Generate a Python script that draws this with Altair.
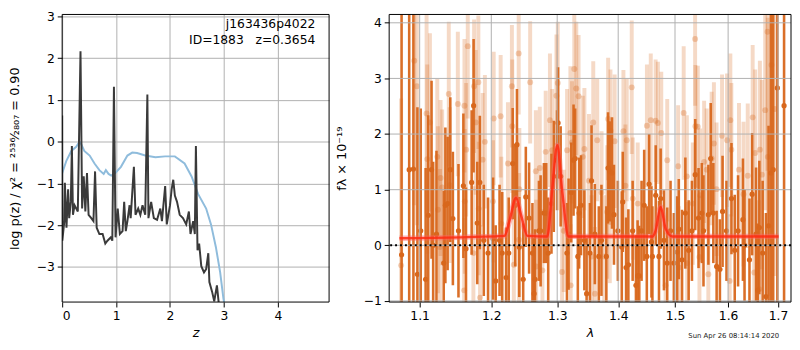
import altair as alt
import pandas as pd

# ---------------- left panel: p(z) ----------------
Z_CHI = [0.00, 0.08, 0.17, 0.26, 0.32, 0.35, 0.41, 0.51, 0.60, 0.69, 0.77, 0.81, 0.86, 0.91,
         0.99, 1.09, 1.21, 1.30, 1.39, 1.54, 1.73, 1.91, 2.09, 2.27, 2.40, 2.52, 2.67, 2.76,
         2.85, 2.93, 2.99, 3.01]
CHI_VAL = [-0.75, -0.45, -0.22, -0.12, 0.00, -0.05, -0.22, -0.33, -0.52, -0.68, -0.77, -0.68,
           -0.77, -0.81, -0.74, -0.60, -0.33, -0.26, -0.27, -0.33, -0.37, -0.35, -0.35, -0.52,
           -0.83, -1.25, -1.60, -1.98, -2.52, -3.13, -3.75, -3.90]

Z_PZ = [0.000, 0.003, 0.04, 0.05, 0.08, 0.11, 0.13, 0.16, 0.18, 0.20, 0.23, 0.29, 0.34, 0.37,
        0.40, 0.43, 0.46, 0.49, 0.54, 0.58, 0.61, 0.64, 0.69, 0.75, 0.80, 0.84, 0.90, 0.93,
        0.96, 0.99, 1.03, 1.07, 1.12, 1.15, 1.18, 1.21, 1.25, 1.27, 1.33, 1.36, 1.41, 1.45,
        1.49, 1.54, 1.58, 1.60, 1.65, 1.70, 1.76, 1.82, 1.85, 1.91, 1.94, 2.00, 2.03, 2.06,
        2.09, 2.13, 2.18, 2.24, 2.30, 2.35, 2.38, 2.43, 2.46, 2.48, 2.51, 2.54, 2.58, 2.63,
        2.67, 2.71, 2.73, 2.78, 2.82, 2.87, 2.90, 2.91]
LOG_PZ = [0.63, -2.37, -1.90, -0.98, -2.06, -1.14, -1.83, -1.44, -0.10, -1.75, -1.52, -1.67,
          2.17, -1.60, -0.83, -1.67, -0.75, -1.75, -1.83, -1.90, -0.71, -2.06, -2.21, -2.21,
          -2.44, -2.37, -2.29, -2.37, 1.32, -2.29, -1.60, -2.21, -2.14, -1.44, -2.14, -1.90,
          -1.52, -1.83, -0.60, -1.75, -1.60, -1.75, -1.52, -1.75, 1.13, -1.83, -1.44, -1.83,
          -1.87, -1.60, -1.90, -1.06, -1.98, -1.52, -1.14, -0.91, -1.29, -1.44, -1.75, -1.83,
          -1.98, -1.67, -2.21, -1.90, -2.21, -0.10, -2.60, -2.44, -2.98, -3.13, -3.05, -2.67,
          -3.36, -3.59, -3.82, -3.44, -3.82, -3.98]

Z_TICKS = [0, 1, 2, 3, 4]
LNP_TICKS = [-3, -2, -1, 0, 1, 2, 3]
LABEL_LINES = ["j163436p4022", "ID=1883\u00a0\u00a0\u00a0z=0.3654"]

# ---------------- right panel: spectrum ----------------
DARK_WAVE = [1.0761, 1.0861, 1.0917, 1.0970, 1.1014, 1.1080, 1.1115, 1.1160, 1.1182, 1.1227,
             1.1326, 1.1349, 1.1380, 1.1417, 1.1453, 1.1531, 1.1600, 1.1637, 1.1717, 1.1745,
             1.1797, 1.1834, 1.1891, 1.1953, 1.2025, 1.2064, 1.2121, 1.2160, 1.2218, 1.2257,
             1.2316, 1.2355, 1.2380, 1.2415, 1.2474, 1.2514, 1.2564, 1.2615, 1.2640, 1.2655,
             1.2715, 1.2741, 1.2792, 1.2828, 1.2859, 1.2910, 1.2946, 1.2998, 1.3014, 1.3055,
             1.3155, 1.3181, 1.3224, 1.3261, 1.3287, 1.3330, 1.3351, 1.3382, 1.3436, 1.3473,
             1.3527, 1.3554, 1.3608, 1.3674, 1.3718, 1.3800, 1.3828, 1.3856, 1.3895, 1.3928,
             1.3994, 1.4061, 1.4078, 1.4135, 1.4174, 1.4248, 1.4305, 1.4334, 1.4363, 1.4403,
             1.4449, 1.4495, 1.4536, 1.4577, 1.4594, 1.4653, 1.4711, 1.4741, 1.4800, 1.4859,
             1.4919, 1.4979, 1.5039, 1.5069, 1.5129, 1.5190, 1.5251, 1.5312, 1.5373, 1.5435,
             1.5497, 1.5528, 1.5621, 1.5665, 1.5715, 1.5778, 1.5841, 1.5892, 1.5968, 1.6065,
             1.6129, 1.6194, 1.6290, 1.6322, 1.6420, 1.6473, 1.6552, 1.6585, 1.6618, 1.6685,
             1.6752, 1.6805, 1.6853, 1.6900, 1.6986, 1.7125]
DARK_FLUX = [-0.17, 1.36, 1.37, -0.52, 0.26, -0.61, 0.54, 1.36, 0.00, 0.20,
             -0.32, 0.72, 0.75, 1.36, 0.48, 0.26, 1.07, -0.06, 1.13, 2.51,
             0.40, 1.13, 0.09, -0.14, 0.12, -0.64, 0.09, -0.14, -0.58, -0.14,
             1.47, 0.72, 1.81, -0.03, -0.61, 0.87, 0.49, -0.14, -0.87, -0.61,
             0.26, 0.26, 0.58, 0.58, -0.14, 0.75, 1.24, 1.53, 2.20, 1.24,
             -0.14, 0.20, 0.95, 1.53, 1.56, -0.20, 0.58, 0.72, 0.09, -0.87,
             -0.14, 1.16, 0.20, -0.20, 0.09, -0.20, 1.39, 1.33, 1.30, 0.55,
             0.26, -0.03, 0.78, -0.40, -0.35, 0.26, -0.72, -0.55, -0.55, 0.26,
             0.72, -0.20, 1.10, 0.06, -0.20, 0.90, -0.20, 0.84, 0.09, -0.32,
             0.26, -0.32, -0.12, 0.29, -0.26, 0.58, -0.09, 0.26, 1.27, 0.49,
             0.58, 0.26, 0.55, 1.56, 0.58, -0.38, -0.43, 0.61, 0.26, 0.84,
             -0.09, 0.26, 0.46, 0.00, -0.26, 0.92, 0.20, -0.81, 0.32, -0.14,
             -0.92, 0.35, 1.30, 1.36, 2.83, 2.51]
DARK_ERR = [5.0, 5.0, 5.0, 3.0, 2.2, 2.0, 1.8, 1.6, 1.5, 1.5,
            1.3, 1.4, 1.2, 1.3, 1.2, 1.2, 1.3, 1.1, 1.3, 1.2,
            1.1, 1.2, 1.0, 1.0, 1.1, 1.0, 1.0, 1.1, 0.9, 1.0,
            1.0, 1.1, 1.0, 0.9, 1.0, 0.9, 1.0, 0.9, 1.0, 0.9,
            0.9, 1.0, 0.9, 0.9, 1.0, 0.9, 1.0, 0.9, 1.0, 0.9,
            0.9, 1.0, 0.9, 1.0, 0.9, 0.9, 1.0, 0.9, 0.9, 1.0,
            0.9, 1.0, 0.9, 0.9, 1.0, 0.9, 1.0, 0.9, 1.0, 0.9,
            0.9, 1.0, 0.9, 0.9, 1.0, 0.9, 0.9, 1.0, 0.9, 0.9,
            1.0, 0.9, 0.9, 1.0, 0.9, 0.9, 1.0, 0.9, 0.9, 1.0,
            0.9, 0.9, 1.0, 0.9, 0.9, 1.0, 0.9, 0.9, 1.0, 0.9,
            0.9, 1.0, 0.9, 1.0, 0.9, 1.0, 0.9, 1.0, 0.9, 1.0,
            1.0, 1.0, 1.1, 1.0, 1.1, 1.1, 1.2, 1.2, 1.2, 1.3,
            1.5, 1.8, 3.0, 3.5, 4.0, 5.0]

LIGHT_WAVE = [1.0755, 1.0928, 1.0963, 1.1093, 1.1102, 1.1138, 1.1238, 1.1247, 1.1274, 1.1283,
              1.1305, 1.1396, 1.1409, 1.1522, 1.1611, 1.1615, 1.1620, 1.1639, 1.1662, 1.1742,
              1.1752, 1.1775, 1.1813, 1.1818, 1.1837, 1.1874, 1.1907, 1.2025, 1.2035, 1.2137,
              1.2147, 1.2245, 1.2304, 1.2310, 1.2333, 1.2406, 1.2410, 1.2416, 1.2580, 1.2667,
              1.2672, 1.2728, 1.2769, 1.2820, 1.2886, 1.2922, 1.2988, 1.3009, 1.3077, 1.3104,
              1.3157, 1.3210, 1.3215, 1.3236, 1.3273, 1.3305, 1.3342, 1.3411, 1.3437, 1.3512,
              1.3554, 1.3582, 1.3610, 1.3648, 1.3720, 1.3764, 1.3814, 1.3830, 1.3858, 1.3869,
              1.3940, 1.4089, 1.4123, 1.4146, 1.4232, 1.4250, 1.4336, 1.4497, 1.4565, 1.4651,
              1.4692, 1.4752, 1.4830, 1.4859, 1.5057, 1.5069, 1.5159, 1.5218, 1.5223, 1.5328,
              1.5371, 1.5376, 1.5421, 1.5452, 1.5465, 1.5540, 1.5589, 1.5620, 1.5683, 1.5726,
              1.5776, 1.5882, 1.5979, 1.6030, 1.6043, 1.6063, 1.6212, 1.6302, 1.6386, 1.6484,
              1.6516, 1.6535, 1.6615, 1.6629, 1.6669, 1.6737, 1.6784, 1.6790, 1.6865, 1.6930]
LIGHT_FLUX = [-0.36, 3.32, 2.86, 2.37, 1.55, 2.21, 1.59, 0.64, -0.03, 1.21,
              1.04, 2.72, 1.08, 2.54, -0.81, 2.51, 0.79, 1.72, 3.58, -0.14,
              2.86, 2.21, 2.93, 0.66, -0.94, 1.54, 1.86, 0.79, 2.28, 2.32,
              0.39, 1.47, 2.86, 2.14, -0.35, 3.45, 0.10, 1.01, 2.93, 1.33,
              -0.38, 1.39, -0.45, 1.68, 2.25, 1.71, 2.69, 2.92, -0.48, 0.26,
              1.71, 2.02, -0.72, 1.85, 3.17, 2.82, 2.68, 1.59, 1.73, 1.16,
              -0.20, 2.21, -0.87, 1.89, 0.95, -0.20, 0.60, 2.27, 0.42, 2.06,
              1.87, 2.05, 1.07, 1.89, 2.84, 0.84, 0.75, 2.15, 2.25, 2.24,
              2.20, 2.02, -0.72, 1.53, 1.42, -0.40, 2.38, 1.24, -0.32, 0.75,
              3.71, 2.14, 2.13, -0.21, 0.90, 1.50, 1.36, -0.52, 1.56, 1.83,
              1.01, 1.97, 1.89, -0.64, 2.25, 1.72, 1.36, 0.92, 1.25, 2.30,
              -0.49, 1.66, -0.79, 1.72, 1.27, 2.43, 3.84, 1.59, 3.24, 2.45]
LIGHT_ERR = [3.0, 2.6, 2.5, 1.8, 1.7, 1.6, 1.4, 1.5, 1.4, 1.4,
             1.4, 1.3, 1.4, 1.3, 1.3, 1.2, 1.3, 1.2, 1.3, 1.2,
             1.2, 1.3, 1.2, 1.2, 1.3, 1.2, 1.2, 1.1, 1.2, 1.1,
             1.2, 1.1, 1.1, 1.2, 1.1, 1.1, 1.2, 1.1, 1.1, 1.1,
             1.2, 1.1, 1.1, 1.1, 1.2, 1.1, 1.1, 1.1, 1.2, 1.1,
             1.1, 1.2, 1.1, 1.1, 1.1, 1.2, 1.1, 1.1, 1.1, 1.2,
             1.1, 1.1, 1.2, 1.1, 1.1, 1.1, 1.2, 1.1, 1.1, 1.1,
             1.2, 1.1, 1.1, 1.1, 1.2, 1.1, 1.1, 1.1, 1.2, 1.1,
             1.1, 1.1, 1.2, 1.1, 1.1, 1.1, 1.2, 1.1, 1.1, 1.1,
             1.2, 1.1, 1.1, 1.1, 1.2, 1.1, 1.1, 1.1, 1.2, 1.1,
             1.2, 1.1, 1.2, 1.2, 1.2, 1.2, 1.2, 1.3, 1.3, 1.3,
             1.4, 1.5, 1.6, 1.6, 1.7, 1.8, 2.5, 2.5, 3.0, 3.0]

MODEL_WAVE = [1.0733, 1.2192, 1.2266, 1.2367, 1.2440, 1.2539, 1.2845, 1.2922, 1.3003, 1.3077,
              1.3181, 1.4600, 1.4650, 1.4741, 1.4830, 1.4949, 1.7011]
MODEL_FLUX = [0.127, 0.170, 0.43, 0.85, 0.55, 0.17, 0.16, 1.01, 1.80, 1.00,
              0.16, 0.16, 0.26, 0.69, 0.30, 0.16, 0.16]

WAVE_TICKS = [1.1, 1.2, 1.3, 1.4, 1.5, 1.6, 1.7]
FLUX_TICKS = [-1, 0, 1, 2, 3, 4]
STAMP = "Sun Apr 26 08:14:14 2020"

ORANGE = "#d8671c"
GRID = "#b0b0b0"
FONT = "DejaVu Sans"
LW, RW, H = 271, 408, 292

# ---------------- tables ----------------
df_chi = pd.DataFrame({"z": Z_CHI, "v": CHI_VAL})
df_pz = pd.DataFrame({"z": Z_PZ, "v": LOG_PZ})
df_lab = pd.DataFrame({"t": LABEL_LINES, "yy": [10, 26]})

df_dark = pd.DataFrame({"w": DARK_WAVE, "f": DARK_FLUX, "e": DARK_ERR})
df_dark["lo"] = df_dark["f"] - df_dark["e"]
df_dark["hi"] = df_dark["f"] + df_dark["e"]
df_light = pd.DataFrame({"w": LIGHT_WAVE, "f": LIGHT_FLUX, "e": LIGHT_ERR})
df_light["lo"] = df_light["f"] - df_light["e"]
df_light["hi"] = df_light["f"] + df_light["e"]
df_model = pd.DataFrame({"w": MODEL_WAVE, "f": MODEL_FLUX})
df_wgrid = pd.DataFrame({"w": WAVE_TICKS})
df_fgrid = pd.DataFrame({"f": FLUX_TICKS})
one = pd.DataFrame({"a": [0]})

axis_common = dict(gridColor=GRID, gridWidth=1, domain=False,
                   tickColor="black", tickSize=5, tickWidth=1, labelPadding=3,
                   labelFont=FONT, labelFontSize=12.5, labelColor="black",
                   titleFont=FONT, titleFontSize=13, titleColor="black",
                   titleFontWeight="normal")

# ---------------- left panel ----------------
zs = alt.Scale(domain=[0, 4.95], nice=False, zero=False)
ls = alt.Scale(domain=[-3.84, 3.05], nice=False, zero=False)
z_axis = alt.Axis(values=Z_TICKS, format="d", title="z", titleFontStyle="italic",
                  titlePadding=4, grid=True, **axis_common)
l_axis = alt.Axis(values=LNP_TICKS, format="d",
                  title="log p(z) / \u03c7\u00b2 = \u00b2\u2075\u00b3\u2076\u2044\u2082\u2088\u2080\u2087 = 0.90",
                  titlePadding=15, grid=True, **axis_common)

left_chi = alt.Chart(df_chi).mark_line(color="#8fbcdc", strokeWidth=2, clip=True).encode(
    x=alt.X("z:Q", scale=zs, axis=z_axis), y=alt.Y("v:Q", scale=ls, axis=l_axis))
left_pz = alt.Chart(df_pz).mark_line(color="#3a3a3a", strokeWidth=2, clip=True).encode(
    x=alt.X("z:Q", scale=zs, axis=z_axis), y=alt.Y("v:Q", scale=ls, axis=l_axis))
left_txt = alt.Chart(df_lab).mark_text(align="right", baseline="middle", font=FONT,
                                       fontSize=12.5, color="black").encode(
    x=alt.value(257), y=alt.Y("yy:Q", scale=None), text="t:N")
left_frame = alt.Chart(one).mark_rect(fillOpacity=0, stroke="black", strokeWidth=1).encode(
    x=alt.value(0), x2=alt.value(LW), y=alt.value(0), y2=alt.value(H))

left = alt.layer(left_chi, left_pz, left_txt, left_frame).properties(width=LW, height=H)

# ---------------- right panel ----------------
ws = alt.Scale(type="log", domain=[1.06, 1.727], nice=False, zero=False)
fs = alt.Scale(domain=[-1.02, 4.15], nice=False, zero=False)

w_axis = alt.Axis(values=WAVE_TICKS, format=".1f", title="\u03bb", titleFontStyle="italic",
                  titlePadding=4, grid=False, **axis_common)
f_axis = alt.Axis(values=FLUX_TICKS, format="d", title="f\u03bb \u00d7 10\u207b\u00b9\u2079",
                  titlePadding=15, grid=False, **axis_common)

X_W = alt.X("w:Q", scale=ws, axis=w_axis)

light_bar = alt.Chart(df_light).mark_rule(color=ORANGE, opacity=0.25, strokeWidth=4, clip=True).encode(
    x=X_W, y=alt.Y("lo:Q", scale=fs, axis=f_axis), y2="hi:Q")
light_pt = alt.Chart(df_light).mark_circle(color=ORANGE, opacity=0.3, size=36, clip=True).encode(
    x=X_W, y=alt.Y("f:Q", scale=fs, axis=f_axis))
dark_bar = alt.Chart(df_dark).mark_rule(color=ORANGE, opacity=0.95, strokeWidth=2.6, clip=True).encode(
    x=X_W, y=alt.Y("lo:Q", scale=fs, axis=f_axis), y2="hi:Q")
dark_pt = alt.Chart(df_dark).mark_circle(color=ORANGE, opacity=1, size=28, clip=True).encode(
    x=X_W, y=alt.Y("f:Q", scale=fs, axis=f_axis))
vgrid = alt.Chart(df_wgrid).mark_rule(color=GRID, strokeWidth=1).encode(x=X_W)
hgrid = alt.Chart(df_fgrid).mark_rule(color=GRID, strokeWidth=1).encode(
    y=alt.Y("f:Q", scale=fs, axis=f_axis))
model_glow = alt.Chart(df_model).mark_line(color="#ff6060", opacity=0.45, strokeWidth=5.5,
                                           interpolate="monotone", clip=True).encode(
    x=X_W, y=alt.Y("f:Q", scale=fs, axis=f_axis))
model_line = alt.Chart(df_model).mark_line(color="#ff2a10", opacity=0.85, strokeWidth=2.5,
                                           interpolate="monotone", clip=True).encode(
    x=X_W, y=alt.Y("f:Q", scale=fs, axis=f_axis))
zero_line = alt.Chart(one).mark_rule(color="black", strokeWidth=2, strokeDash=[2, 3]).encode(
    y=alt.Y("f:Q", scale=fs, axis=f_axis)).transform_calculate(f="0")
stamp = alt.Chart(pd.DataFrame({"t": [STAMP]})).mark_text(
    align="right", baseline="middle", font=FONT, fontSize=7, color="#222222").encode(
    x=alt.value(396), y=alt.value(326), text="t:N")
right_frame = alt.Chart(one).mark_rect(fillOpacity=0, stroke="black", strokeWidth=1).encode(
    x=alt.value(0), x2=alt.value(RW), y=alt.value(0), y2=alt.value(H))

right = alt.layer(light_bar, light_pt, dark_bar, dark_pt, vgrid, hgrid, model_glow, model_line,
                  zero_line, right_frame, stamp).properties(width=RW, height=H)

chart = alt.hconcat(left, right, spacing=5).properties(padding=0).configure_view(stroke=None)

chart.save("out.html", embed_options={"renderer": "svg", "actions": False})
